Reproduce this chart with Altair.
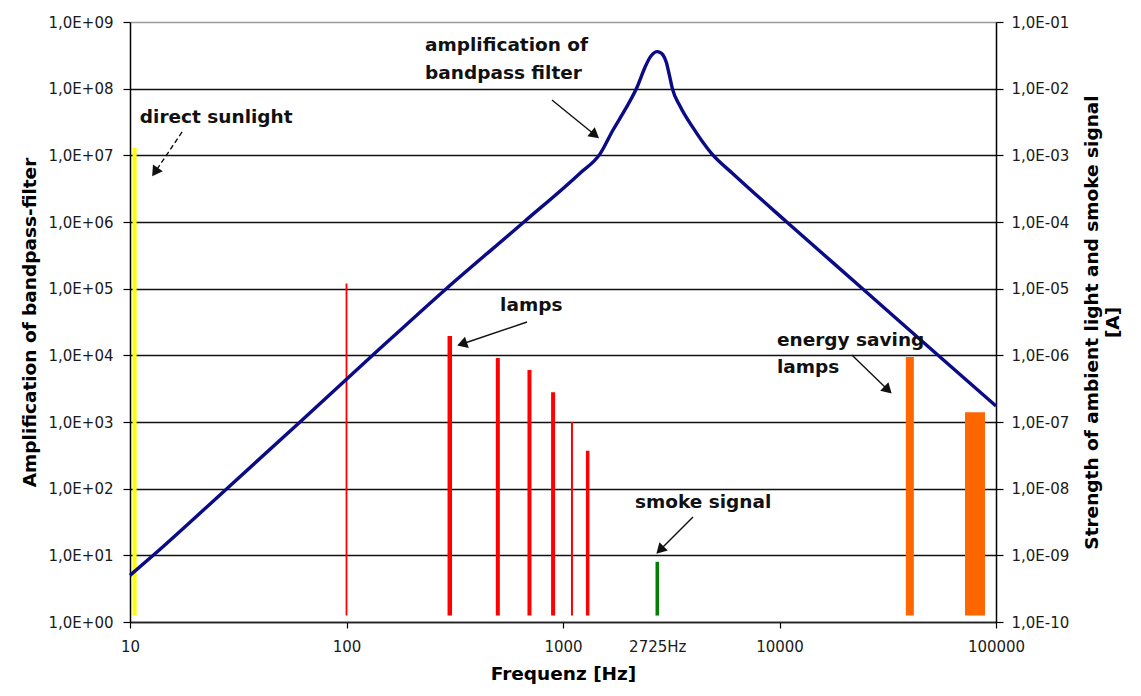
import math

import altair as alt
import pandas as pd

# ---------------------------------------------------------------------------
# Data
# ---------------------------------------------------------------------------

# Amplification of the bandpass filter (left axis)
freq_hz = [10, 12.8, 28, 61, 132, 289, 660, 1198, 1483, 1702, 1932, 2197,
           2393, 2523, 2620, 2718, 2810, 2897, 3000, 3100, 3200, 3470, 3985,
           4872, 6095, 10800, 24200, 54000, 100000]
gain = [5, 10, 100, 1000, 1e4, 1e5, 1e6, 5.4e6, 1.05e7, 2.4e7, 4.8e7,
        1.05e8, 2.1e8, 2.95e8, 3.4e8, 3.6e8, 3.5e8, 3.2e8, 2.5e8, 1.6e8,
        1.0e8, 5.5e7, 2.6e7, 1.05e7, 5.3e6, 1e6, 1e5, 1e4, 1740]

# Spectral lines of ambient light and smoke signal (right axis, current in A)
line_freq = [10.5, 100, 300, 500, 700, 900, 1100, 1300, 2725, 40000, 80000]
line_top = [1.3e-3, 1.2e-5, 1.95e-6, 9.1e-7, 6.0e-7, 2.8e-7, 1.0e-7, 3.7e-8,
            8e-10, 9.4e-7, 1.4e-7]
line_group = ["sun", "lamp", "lamp", "lamp", "lamp", "lamp", "lamp", "lamp",
              "smoke", "esl", "esl"]
line_floor = 1.25e-10

# Annotation texts, anchored in left-axis data coordinates
note_text = ["direct sunlight", "amplification of", "bandpass filter", "lamps",
             "smoke signal", "energy saving", "lamps"]
note_f = [11.1, 230.5, 230.5, 512, 2150, 9730, 9730]
note_a = [3.76e7, 4.5e8, 1.72e8, 5.7e4, 63, 1.7e4, 6.7e3]

# Annotation arrows (from -> to)
arrow_from_f = [17.4, 889, 682, 3986, 21600]
arrow_from_a = [2.24e7, 6.76e7, 3.16e4, 37.6, 1.01e4]
arrow_to_f = [13.05, 1406, 341.7, 2805, 31700]
arrow_to_a = [5.6e6, 2.02e7, 1.48e4, 12.0, 3.02e3]

x_ticks = [10, 100, 1000, 2725, 10000, 100000]
left_ticks = [10.0 ** k for k in range(0, 10)]
right_ticks = [10.0 ** -k for k in range(1, 11)]

# ---------------------------------------------------------------------------
# Styles
# ---------------------------------------------------------------------------
W, H = 866, 600
FONT = "DejaVu Sans"
GROUP_COLOR = {"sun": "#ffff00", "lamp": "#ff0000", "smoke": "#008000",
               "esl": "#ff6600"}
LINE_PX = [4, 1.8, 4.5, 4, 4, 4, 2, 3.5, 3.5, 8, 20]
ARROW_DASHED = [True, False, False, False, False]
PX_PER_DEC_X = W / 4.0
PX_PER_DEC_Y = H / 9.0

curve = pd.DataFrame({"f": freq_hz, "a": gain})
lines = pd.DataFrame({
    "f": line_freq,
    "top": line_top,
    "base": [line_floor] * len(line_freq),
    "color": [GROUP_COLOR[g] for g in line_group],
    "w": LINE_PX,
})
notes = pd.DataFrame({"f": note_f, "a": note_a, "t": note_text})


def head_angle(f1, a1, f2, a2):
    dx = (math.log10(f2) - math.log10(f1)) * PX_PER_DEC_X
    dy = -(math.log10(a2) - math.log10(a1)) * PX_PER_DEC_Y
    return math.degrees(math.atan2(dx, -dy)) % 360


arrows = pd.DataFrame({
    "f": arrow_from_f, "a": arrow_from_a,
    "f2": arrow_to_f, "a2": arrow_to_a,
    "dashed": ARROW_DASHED,
    "ang": [head_angle(*p) for p in zip(arrow_from_f, arrow_from_a,
                                          arrow_to_f, arrow_to_a)],
})

# ---------------------------------------------------------------------------
# Scales and axes
# ---------------------------------------------------------------------------
x_scale = alt.Scale(type="log", domain=[10, 100000], nice=False)
left_scale = alt.Scale(type="log", domain=[1, 1e9], nice=False)
right_scale = alt.Scale(type="log", domain=[1e-10, 1e-1], nice=False)

x_axis = alt.Axis(
    values=x_ticks,
    labelExpr="datum.value == 2725 ? '2725Hz' : format(datum.value, 'd')",
    title="Frequenz [Hz]",
    grid=False,
    tickSize=6,
    tickColor="black",
    tickWidth=1.2,
    tickOpacity={"condition": {"test": "datum.value == 2725", "value": 0},
                 "value": 1},
    labelFlush=False,
    labelOverlap=False,
    labelFont=FONT,
    labelFontSize=15,
    labelColor="#1a1a1a",
    labelPadding=11,
    domainColor="#222222",
    domainWidth=1.5,
    titleFont=FONT,
    titleFontSize=18.5,
    titleFontWeight="bold",
    titleColor="black",
    titlePadding=10,
)

left_axis = alt.Axis(
    values=left_ticks,
    labelExpr="'1,0E+0' + round(log(datum.value) / LN10)",
    title="Amplification of bandpass-filter",
    grid=True,
    gridColor={"condition": {"test": "datum.value >= 1e9", "value": "#9a9a9a"},
               "value": "#111111"},
    gridWidth=1.3,
    tickSize=7,
    tickColor="black",
    tickWidth=1.2,
    labelFlush=False,
    labelOverlap=False,
    labelFont=FONT,
    labelFontSize=15,
    labelColor="#1a1a1a",
    labelPadding=10,
    domainColor="black",
    domainWidth=1.5,
    titleFont=FONT,
    titleFontSize=18.5,
    titleFontWeight="bold",
    titleColor="black",
    titlePadding=9,
)

right_axis = alt.Axis(
    orient="right",
    values=right_ticks,
    labelExpr=("'1,0E-' + (round(-log(datum.value) / LN10) < 10 ? '0' : '')"
               " + round(-log(datum.value) / LN10)"),
    title=["Strength of ambient light and smoke signal", "[A]"],
    titleAngle=270,
    titleLineHeight=21,
    grid=False,
    tickSize=7,
    tickColor="black",
    tickWidth=1.2,
    labelFlush=False,
    labelOverlap=False,
    labelFont=FONT,
    labelFontSize=15,
    labelColor="#1a1a1a",
    labelPadding=8,
    domainColor="black",
    domainWidth=1.5,
    titleFont=FONT,
    titleFontSize=18.5,
    titleFontWeight="bold",
    titleColor="black",
    titlePadding=12,
)

X = alt.X("f:Q", scale=x_scale, axis=x_axis)
Y_LEFT = alt.Y("a:Q", scale=left_scale, axis=left_axis)

# ---------------------------------------------------------------------------
# Layers
# ---------------------------------------------------------------------------
gain_line = alt.Chart(curve).mark_line(
    color="#0b0b86", strokeWidth=3.4, strokeJoin="round",
    interpolate="monotone"
).encode(x=X, y=Y_LEFT)

note_marks = alt.Chart(notes).mark_text(
    align="left", baseline="middle", font=FONT, fontSize=18.5,
    fontWeight="bold", color="#111111"
).encode(x=X, y=Y_LEFT, text="t:N")

arrow_base = alt.Chart(arrows).encode(
    x=X, y=Y_LEFT, x2="f2:Q", y2="a2:Q"
)
arrow_dashed = arrow_base.transform_filter("datum.dashed").mark_rule(
    color="#111111", strokeWidth=1.4, strokeDash=[5, 3]
)
arrow_solid = arrow_base.transform_filter("!datum.dashed").mark_rule(
    color="#111111", strokeWidth=1.4
)
arrow_heads = alt.Chart(arrows).mark_point(
    shape="triangle-up", filled=True, size=140, color="#111111", opacity=1
).encode(
    x=alt.X("f2:Q", scale=x_scale, axis=x_axis),
    y=alt.Y("a2:Q", scale=left_scale, axis=left_axis),
    angle=alt.Angle("ang:Q", scale=None),
)

left_group = alt.layer(gain_line, arrow_dashed, arrow_solid, arrow_heads,
                       note_marks)

spectral_lines = alt.Chart(lines).mark_rule(strokeCap="butt").encode(
    x=X,
    y=alt.Y("base:Q", scale=right_scale, axis=right_axis),
    y2="top:Q",
    color=alt.Color("color:N", scale=None),
    strokeWidth=alt.StrokeWidth("w:Q", scale=None),
)

chart = alt.layer(spectral_lines, left_group).resolve_scale(
    y="independent"
).properties(
    width=W,
    height=H,
    padding={"left": 130, "top": 22, "right": 145, "bottom": 74},
    autosize=alt.AutoSizeParams(type="none"),
    background="white",
).configure_view(stroke=None)

chart.save("out.html", embed_options={"renderer": "svg", "actions": False})
